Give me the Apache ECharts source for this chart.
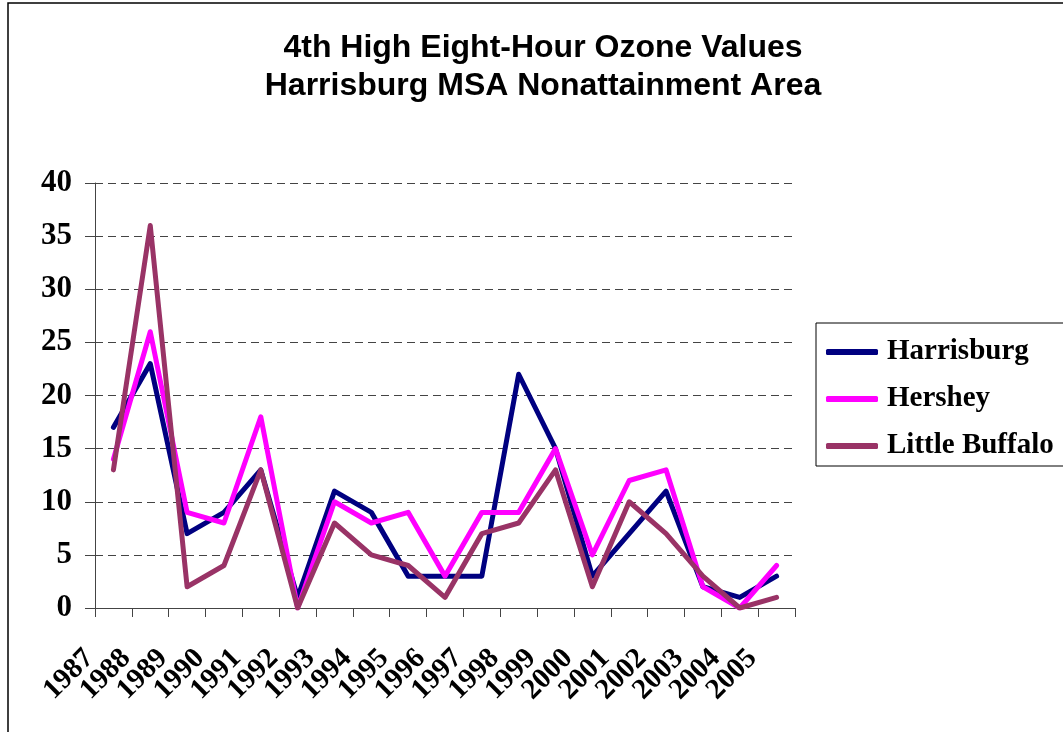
<!DOCTYPE html>
<html>
<head>
<meta charset="utf-8">
<script src="https://cdn.jsdelivr.net/npm/echarts@6/dist/echarts.min.js"></script>
<style>
  html, body { margin: 0; padding: 0; background: #fff; }
  #chart { width: 1063px; height: 732px; }
</style>
</head>
<body>
<div id="chart"></div>
<script>
// Years on the x axis
const years = ['1987', '1988', '1989', '1990', '1991', '1992', '1993', '1994', '1995', '1996',
  '1997', '1998', '1999', '2000', '2001', '2002', '2003', '2004', '2005']

// 4th high eight-hour ozone values per site
const harrisburg = [17, 23, 7, 9, 13, 1, 11, 9, 3, 3, 3, 22, 15, 3, 7, 11, 2, 1, 3]
const hershey = [14, 26, 9, 8, 18, 0, 10, 8, 9, 3, 9, 9, 15, 5, 12, 13, 2, 0, 4]
const littleBuffalo = [13, 36, 2, 4, 13, 0, 8, 5, 4, 1, 7, 8, 13, 2, 10, 7, 3, 0, 1]

const seriesNames = ['Harrisburg', 'Hershey', 'Little Buffalo']
const colors = ['#000080', '#ff00ff', '#993366']

const serif = '"Liberation Serif", "Times New Roman", serif'
const sans = '"Liberation Sans", Arial, sans-serif'

const chart = echarts.init(document.getElementById('chart'))

const makeSeries = (name, data, i) => ({
  name,
  type: 'line',
  data,
  symbol: 'none',
  color: colors[i],
  lineStyle: { width: 5, color: colors[i], join: 'round', cap: 'round' }
})

chart.setOption({
  animation: false,
  backgroundColor: '#fff',
  graphic: [{
    type: 'rect',
    shape: { x: 8, y: 3, width: 1100, height: 800 },
    style: { fill: 'none', stroke: '#000', lineWidth: 1.5 },
    silent: true
  }],
  title: {
    text: '4th High Eight-Hour Ozone Values\nHarrisburg MSA Nonattainment Area',
    left: 543,
    top: 29,
    padding: 0,
    textAlign: 'center',
    textStyle: {
      fontFamily: sans,
      fontWeight: 'bold',
      fontSize: 32,
      lineHeight: 38,
      color: '#000'
    }
  },
  legend: {
    orient: 'vertical',
    left: 816,
    top: 323,
    data: seriesNames,
    icon: 'roundRect',
    borderColor: '#000',
    borderWidth: 1,
    padding: [14, 60, 5, 10],
    itemWidth: 52,
    itemHeight: 6,
    itemGap: 17,
    textStyle: {
      fontFamily: serif,
      fontWeight: 'bold',
      fontSize: 29,
      lineHeight: 30,
      color: '#000',
      padding: [0, 0, 0, 4]
    }
  },
  grid: {
    left: 95,
    right: 268,
    top: 183,
    bottom: 124
  },
  xAxis: {
    type: 'category',
    data: years,
    boundaryGap: true,
    axisLine: { lineStyle: { color: '#444', width: 1 } },
    axisTick: { show: true, length: 9, lineStyle: { color: '#444' } },
    axisLabel: {
      interval: 0,
      rotate: 45,
      margin: 22,
      padding: [0, 34, 0, 0],
      fontFamily: serif,
      fontWeight: 'bold',
      fontSize: 29,
      color: '#000'
    },
    splitLine: { show: false }
  },
  yAxis: {
    type: 'value',
    min: 0,
    max: 40,
    interval: 5,
    axisLine: { show: true, lineStyle: { color: '#444', width: 1 } },
    axisTick: { show: true, length: 10, lineStyle: { color: '#444' } },
    axisLabel: {
      margin: 23,
      fontFamily: serif,
      fontWeight: 'bold',
      fontSize: 31,
      color: '#000'
    },
    splitLine: { show: true, lineStyle: { color: '#444', type: [8, 5], width: 1 } }
  },
  series: [
    makeSeries(seriesNames[0], harrisburg, 0),
    makeSeries(seriesNames[1], hershey, 1),
    makeSeries(seriesNames[2], littleBuffalo, 2)
  ]
})
</script>
</body>
</html>
